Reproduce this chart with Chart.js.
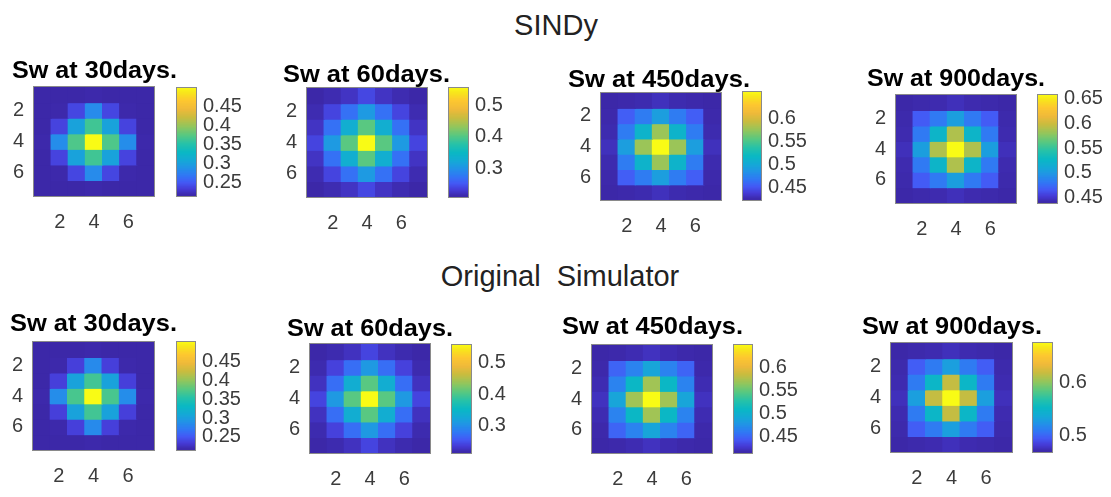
<!DOCTYPE html>
<html>
<head>
<meta charset="utf-8">
<script src="https://cdn.jsdelivr.net/npm/chart.js@4.4.1/dist/chart.umd.min.js"></script>
<style>
  html, body { margin: 0; padding: 0; background: #fff; }
  #fig { position: relative; width: 1111px; height: 497px; overflow: hidden;
         font-family: "Liberation Sans", Arial, sans-serif; }
  #fig canvas { position: absolute; }
  .sup { position: absolute; font-size: 29px; color: #222; white-space: pre; line-height: 1; }
  .ttl { position: absolute; font-size: 24px; font-weight: bold; color: #000;
         white-space: pre; line-height: 1; transform-origin: 0 0; }
</style>
</head>
<body>
<div id="fig"></div>
<script>
// ---- grid axes ----
const colIdx = [1, 2, 3, 4, 5, 6, 7];
const rowIdx = [1, 2, 3, 4, 5, 6, 7];
const axisTicks = [2, 4, 6];

// ---- section headings and panel titles ----
const sectionTitles = ['SINDy', 'Original  Simulator'];
const panelTitles = ['Sw at 30days.', 'Sw at 60days.', 'Sw at 450days.', 'Sw at 900days.',
                     'Sw at 30days.', 'Sw at 60days.', 'Sw at 450days.', 'Sw at 900days.'];

// ---- water saturation fields, 7x7 cells (row 1 at the top) ----
const sindy30 = [
  [0.213, 0.213, 0.213, 0.214, 0.213, 0.213, 0.213],
  [0.213, 0.214, 0.236, 0.280, 0.236, 0.214, 0.213],
  [0.213, 0.234, 0.300, 0.362, 0.300, 0.234, 0.213],
  [0.214, 0.282, 0.368, 0.500, 0.368, 0.282, 0.214],
  [0.213, 0.234, 0.300, 0.362, 0.300, 0.234, 0.213],
  [0.213, 0.214, 0.236, 0.280, 0.236, 0.214, 0.213],
  [0.213, 0.213, 0.213, 0.214, 0.213, 0.213, 0.213]
];
const sindy60 = [
  [0.210, 0.214, 0.222, 0.238, 0.222, 0.214, 0.210],
  [0.214, 0.236, 0.268, 0.305, 0.268, 0.236, 0.214],
  [0.222, 0.268, 0.330, 0.402, 0.330, 0.268, 0.222],
  [0.236, 0.305, 0.402, 0.554, 0.402, 0.305, 0.236],
  [0.222, 0.268, 0.330, 0.402, 0.330, 0.268, 0.222],
  [0.214, 0.236, 0.268, 0.305, 0.268, 0.236, 0.214],
  [0.210, 0.214, 0.222, 0.238, 0.222, 0.214, 0.210]
];
const sindy450 = [
  [0.422, 0.423, 0.424, 0.428, 0.424, 0.423, 0.422],
  [0.423, 0.452, 0.468, 0.490, 0.468, 0.452, 0.423],
  [0.424, 0.468, 0.510, 0.575, 0.510, 0.468, 0.424],
  [0.428, 0.490, 0.575, 0.657, 0.575, 0.490, 0.428],
  [0.424, 0.468, 0.510, 0.575, 0.510, 0.468, 0.424],
  [0.423, 0.452, 0.468, 0.490, 0.468, 0.452, 0.423],
  [0.422, 0.423, 0.424, 0.428, 0.424, 0.423, 0.422]
];
const sindy900 = [
  [0.438, 0.439, 0.440, 0.443, 0.440, 0.439, 0.438],
  [0.439, 0.465, 0.480, 0.502, 0.480, 0.465, 0.439],
  [0.440, 0.480, 0.522, 0.588, 0.522, 0.480, 0.440],
  [0.443, 0.502, 0.588, 0.658, 0.588, 0.502, 0.443],
  [0.440, 0.480, 0.522, 0.588, 0.522, 0.480, 0.440],
  [0.439, 0.465, 0.480, 0.502, 0.480, 0.465, 0.439],
  [0.438, 0.439, 0.440, 0.443, 0.440, 0.439, 0.438]
];
const sim30 = [
  [0.215, 0.215, 0.215, 0.216, 0.215, 0.215, 0.215],
  [0.215, 0.216, 0.234, 0.282, 0.234, 0.216, 0.215],
  [0.215, 0.234, 0.302, 0.365, 0.302, 0.234, 0.215],
  [0.216, 0.284, 0.368, 0.503, 0.368, 0.284, 0.216],
  [0.215, 0.234, 0.302, 0.365, 0.302, 0.234, 0.215],
  [0.215, 0.216, 0.234, 0.282, 0.234, 0.216, 0.215],
  [0.215, 0.215, 0.215, 0.216, 0.215, 0.215, 0.215]
];
const sim60 = [
  [0.214, 0.217, 0.224, 0.240, 0.224, 0.217, 0.214],
  [0.217, 0.238, 0.270, 0.308, 0.270, 0.238, 0.217],
  [0.224, 0.270, 0.332, 0.405, 0.332, 0.270, 0.224],
  [0.240, 0.308, 0.405, 0.557, 0.405, 0.308, 0.240],
  [0.224, 0.270, 0.332, 0.405, 0.332, 0.270, 0.224],
  [0.217, 0.238, 0.270, 0.308, 0.270, 0.238, 0.217],
  [0.214, 0.217, 0.224, 0.240, 0.224, 0.217, 0.214]
];
const sim450 = [
  [0.415, 0.416, 0.418, 0.422, 0.418, 0.416, 0.415],
  [0.416, 0.448, 0.465, 0.488, 0.465, 0.448, 0.416],
  [0.418, 0.465, 0.508, 0.570, 0.508, 0.465, 0.418],
  [0.422, 0.488, 0.570, 0.650, 0.570, 0.488, 0.422],
  [0.418, 0.465, 0.508, 0.570, 0.508, 0.465, 0.418],
  [0.416, 0.448, 0.465, 0.488, 0.465, 0.448, 0.416],
  [0.415, 0.416, 0.418, 0.422, 0.418, 0.416, 0.415]
];
const sim900 = [
  [0.468, 0.469, 0.470, 0.473, 0.470, 0.469, 0.468],
  [0.469, 0.494, 0.508, 0.528, 0.508, 0.494, 0.469],
  [0.470, 0.508, 0.548, 0.615, 0.548, 0.508, 0.470],
  [0.473, 0.528, 0.615, 0.674, 0.615, 0.528, 0.473],
  [0.470, 0.508, 0.548, 0.615, 0.548, 0.508, 0.470],
  [0.469, 0.494, 0.508, 0.528, 0.508, 0.494, 0.469],
  [0.468, 0.469, 0.470, 0.473, 0.470, 0.469, 0.468]
];

// ---- colour bar tick labels ----
const cbTicks30 = [0.25, 0.3, 0.35, 0.4, 0.45];
const cbTicks60 = [0.3, 0.4, 0.5];
const cbTicks450 = [0.45, 0.5, 0.55, 0.6];
const cbTicks900a = [0.45, 0.5, 0.55, 0.6, 0.65];
const cbTicks900b = [0.5, 0.6];

const fields = [sindy30, sindy60, sindy450, sindy900, sim30, sim60, sim450, sim900];
const fieldTicks = [cbTicks30, cbTicks60, cbTicks450, cbTicks900a,
                    cbTicks30, cbTicks60, cbTicks450, cbTicks900b];

// ---- page layout (pixel boxes: image axes, colour bar, title) ----
const layout = [
  { box: [34, 87, 120, 109],  bar: [177, 88, 19, 108],  title: [12, 70, 165] },
  { box: [307, 88, 120, 109], bar: [449, 88, 19, 109],  title: [283, 74, 167] },
  { box: [601, 93, 120, 107], bar: [743, 92, 18, 108],  title: [568, 79, 182] },
  { box: [896, 95, 120, 108], bar: [1038, 95, 19, 108], title: [867, 78, 178] },
  { box: [33, 342, 121, 108], bar: [177, 342, 18, 108], title: [10, 323, 167] },
  { box: [310, 344, 120, 109], bar: [452, 345, 19, 108], title: [287, 328, 166] },
  { box: [592, 345, 120, 108], bar: [734, 345, 18, 108], title: [562, 326, 181] },
  { box: [891, 343, 121, 109], bar: [1033, 343, 19, 109], title: [862, 326, 180] }
];
const sectionLayout = [[556, 25], [560, 276]];

// ---- parula-like colour map ----
const stops = [
  [0.00, 60, 40, 168], [0.06, 70, 60, 215], [0.12, 68, 90, 245], [0.18, 50, 118, 245],
  [0.25, 35, 145, 232], [0.32, 22, 168, 215], [0.40, 10, 184, 196], [0.48, 40, 194, 168],
  [0.56, 90, 200, 128], [0.64, 148, 198, 92], [0.72, 200, 188, 64], [0.80, 240, 186, 58],
  [0.88, 253, 200, 48], [0.94, 248, 225, 30], [1.00, 249, 251, 21]
];
function cmap(t) {
  t = Math.max(0, Math.min(1, t));
  for (let i = 1; i < stops.length; i++) {
    if (t <= stops[i][0]) {
      const a = stops[i - 1], b = stops[i];
      const f = (t - a[0]) / (b[0] - a[0]);
      const c = [1, 2, 3].map(k => Math.round(a[k] + (b[k] - a[k]) * f));
      return `rgb(${c[0]},${c[1]},${c[2]})`;
    }
  }
  return 'rgb(249,251,21)';
}

const fig = document.getElementById('fig');
const tickFont = { family: '"Liberation Sans", Arial, sans-serif', size: 20 };
const tickColor = '#3c3c3c';
const fmt = v => String(+(+v).toFixed(2));

// thin box around the plotting area
const frame = {
  id: 'frame',
  afterDatasetsDraw(chart) {
    const a = chart.chartArea, c = chart.ctx;
    c.save();
    c.strokeStyle = '#8a8a8a';
    c.lineWidth = 1;
    c.strokeRect(a.left - 0.5, a.top - 0.5, a.right - a.left + 1, a.bottom - a.top + 1);
    c.restore();
  }
};

function makeCanvas(x, y, w, h) {
  const cv = document.createElement('canvas');
  cv.width = w; cv.height = h;
  cv.style.left = x + 'px'; cv.style.top = y + 'px';
  cv.style.width = w + 'px'; cv.style.height = h + 'px';
  fig.appendChild(cv);
  return cv;
}

function drawField(grid, box, vmin, vmax) {
  const [bx, by, bw, bh] = box;
  const L = 50, T = 24, R = 10, B = 46;
  const cv = makeCanvas(bx - L, by - T, bw + L + R, bh + T + B);
  const datasets = rowIdx.map((r, i) => ({
    data: colIdx.map(() => [r - 0.5, r + 0.5]),
    backgroundColor: grid[i].map(v => cmap((v - vmin) / (vmax - vmin))),
    borderWidth: 0,
    grouped: false,
    barPercentage: 1,
    categoryPercentage: 1,
    inflateAmount: 0.6
  }));
  new Chart(cv, {
    type: 'bar',
    data: { labels: colIdx.map(String), datasets },
    options: {
      responsive: false, animation: false, events: [],
      layout: { padding: { left: 0, top: T, right: R, bottom: 0 } },
      plugins: { legend: { display: false }, tooltip: { enabled: false } },
      scales: {
        x: {
          grid: { display: false, drawTicks: false }, border: { display: false },
          ticks: {
            autoSkip: false, maxRotation: 0, minRotation: 0, padding: 14,
            font: tickFont, color: tickColor,
            callback: (v, i) => axisTicks.includes(colIdx[i]) ? String(colIdx[i]) : ''
          },
          afterFit: s => { s.height = B; }
        },
        y: {
          type: 'linear', reverse: true, min: 0.5, max: 7.5,
          grid: { display: false, drawTicks: false }, border: { display: false },
          ticks: { padding: 10, font: tickFont, color: tickColor, callback: v => String(v) },
          afterBuildTicks: s => { s.ticks = axisTicks.map(v => ({ value: v })); },
          afterFit: s => { s.width = L; }
        }
      }
    },
    plugins: [frame]
  });
}

function drawColorbar(box, vmin, vmax, ticks) {
  const [cx, cy, cw, ch] = box;
  const L = 10, T = 24, R = 62, B = 24;
  const cv = makeCanvas(cx - L, cy - T, cw + L + R, ch + T + B);
  const N = 128;
  const datasets = [];
  for (let k = 0; k < N; k++) {
    datasets.push({
      data: [[vmin + (vmax - vmin) * k / N, vmin + (vmax - vmin) * (k + 1) / N]],
      backgroundColor: cmap((k + 0.5) / N),
      borderWidth: 0, grouped: false, barPercentage: 1, categoryPercentage: 1,
      inflateAmount: 0.6
    });
  }
  new Chart(cv, {
    type: 'bar',
    data: { labels: [''], datasets },
    options: {
      responsive: false, animation: false, events: [],
      layout: { padding: { left: L, top: T, right: 0, bottom: B } },
      plugins: { legend: { display: false }, tooltip: { enabled: false } },
      scales: {
        x: { display: false },
        y: {
          type: 'linear', position: 'right', min: vmin, max: vmax,
          grid: { display: false, drawTicks: false }, border: { display: false },
          ticks: { padding: 7, font: tickFont, color: tickColor, callback: v => fmt(v) },
          afterBuildTicks: s => { s.ticks = ticks.map(v => ({ value: v })); },
          afterFit: s => { s.width = R; }
        }
      }
    },
    plugins: [frame]
  });
}

function addText(cls, text, x, capMid, fitWidth, centred) {
  const d = document.createElement('div');
  d.className = cls;
  d.textContent = text;
  fig.appendChild(d);
  const fs = parseFloat(getComputedStyle(d).fontSize);
  const w = d.getBoundingClientRect().width;
  d.style.top = (capMid - 0.49 * fs) + 'px';
  if (centred) {
    d.style.left = (x - w / 2) + 'px';
  } else {
    d.style.left = x + 'px';
    if (fitWidth) d.style.transform = `scaleX(${fitWidth / w})`;
  }
}

sectionTitles.forEach((t, i) => addText('sup', t, sectionLayout[i][0], sectionLayout[i][1], 0, true));

fields.forEach((grid, i) => {
  const flat = grid.flat();
  const vmin = Math.min(...flat), vmax = Math.max(...flat);
  const lay = layout[i];
  drawField(grid, lay.box, vmin, vmax);
  drawColorbar(lay.bar, vmin, vmax, fieldTicks[i]);
  addText('ttl', panelTitles[i], lay.title[0], lay.title[1], lay.title[2], false);
});
</script>
</body>
</html>
